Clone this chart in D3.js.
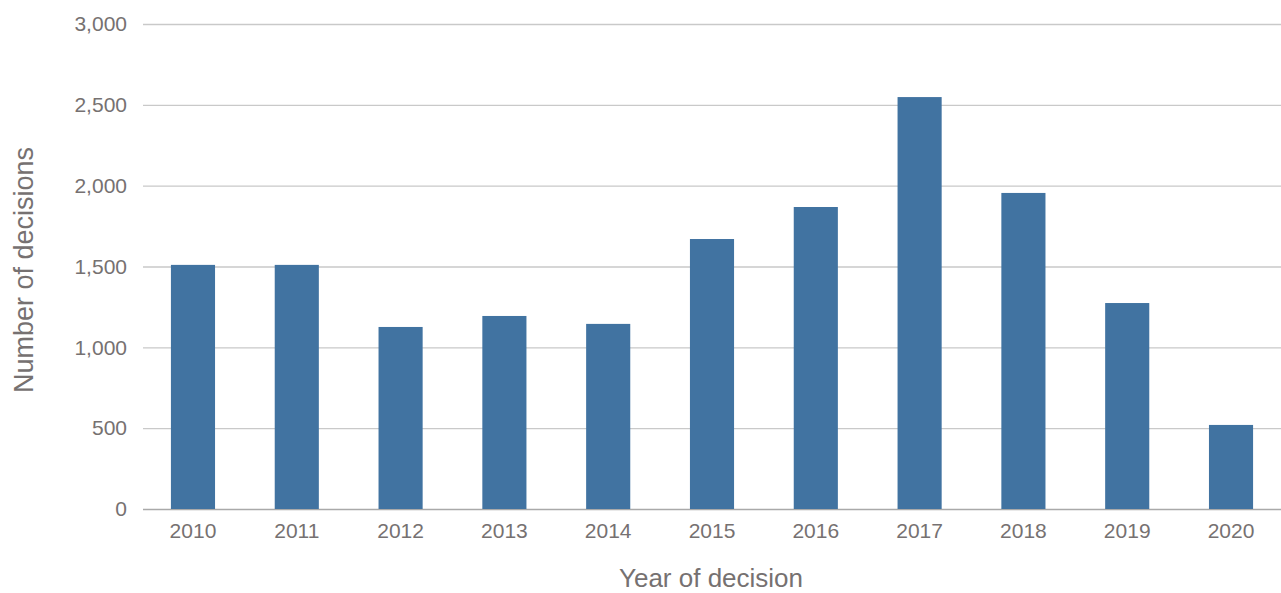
<!DOCTYPE html>
<html>
<head>
<meta charset="utf-8">
<script src="https://cdn.jsdelivr.net/npm/d3@7"></script>
<style>
html,body{margin:0;padding:0;background:#fff;}
text{font-family:"Liberation Sans",Arial,Helvetica,sans-serif;}
</style>
</head>
<body>
<svg id="chart" width="1281" height="593"></svg>
<script>
const years = ["2010","2011","2012","2013","2014","2015","2016","2017","2018","2019","2020"];
const decisions = [1510, 1510, 1126, 1194, 1145, 1670, 1868, 2548, 1955, 1274, 520];
const yTicks = [0, 500, 1000, 1500, 2000, 2500, 3000];

(function(){
const svg = d3.select("#chart");
const mLeft = 143, mRight = 1281, mTop = 24, mBottom = 509;
const textColor = "#767171";

const x = d3.scaleBand().domain(years).range([mLeft, mRight]).paddingInner(0.575).paddingOuter(0.269);
const y = d3.scaleLinear().domain([0, 3000]).range([mBottom, mTop]);

// grid
const yAxis = d3.axisLeft(y).tickValues(yTicks).tickSize(-(mRight - mLeft)).tickPadding(16)
  .tickFormat(d3.format(","));
const gy = svg.append("g").attr("transform", `translate(${mLeft},0)`).call(yAxis);
gy.select(".domain").remove();
gy.selectAll(".tick line").attr("stroke", d => d === 0 ? "#a9a9a9" : "#c9c9c9").attr("stroke-width", 1.3);
gy.selectAll(".tick text").attr("fill", textColor).attr("font-size", 21)
  .attr("font-family", '"Liberation Sans",Arial,sans-serif');

// bars
svg.append("g").selectAll("rect").data(years).join("rect")
  .attr("x", d => x(d))
  .attr("width", x.bandwidth())
  .attr("y", (d, i) => y(decisions[i]))
  .attr("height", (d, i) => y(0) - y(decisions[i]))
  .attr("fill", "#4173a1");

// x axis
const xAxis = d3.axisBottom(x).tickSize(0).tickPadding(14);
const gx = svg.append("g").attr("transform", `translate(0,${mBottom})`).call(xAxis);
gx.select(".domain").remove();
gx.selectAll(".tick text").attr("fill", textColor).attr("font-size", 21)
  .attr("font-family", '"Liberation Sans",Arial,sans-serif');

// axis titles
svg.append("text").attr("x", (mLeft + mRight) / 2 - 1).attr("y", 587)
  .attr("text-anchor", "middle").attr("fill", textColor).attr("font-size", 26)
  .text("Year of decision");
svg.append("text").attr("transform", `translate(33,270) rotate(-90)`)
  .attr("text-anchor", "middle").attr("fill", textColor).attr("font-size", 27)
  .text("Number of decisions");
})();
</script>
</body>
</html>
